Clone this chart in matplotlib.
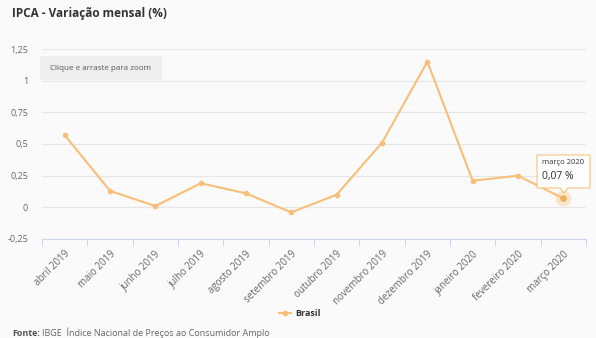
import matplotlib
matplotlib.use("Agg")
import matplotlib.pyplot as plt
from matplotlib.patches import Rectangle, Polygon
import numpy as np

plt.rcParams['font.family'] = ['Open Sans', 'DejaVu Sans']

months = ["abril 2019", "maio 2019", "junho 2019", "julho 2019", "agosto 2019",
          "setembro 2019", "outubro 2019", "novembro 2019", "dezembro 2019",
          "janeiro 2020", "fevereiro 2020", "março 2020"]
ipca = [0.57, 0.13, 0.01, 0.19, 0.11, -0.04, 0.10, 0.51, 1.15, 0.21, 0.25, 0.07]
y_ticks = [-0.25, 0, 0.25, 0.5, 0.75, 1, 1.25]
y_labels = ["-0,25", "0", "0,25", "0,5", "0,75", "1", "1,25"]

bg = "#fafafa"
line_c = "#f7bf78"
axis_c = "#ccd6eb"
grid_c = "#e6e6e6"
txt_c = "#666666"

W, H = 596, 338


def fx(px):
    return px / W


def fy(py):
    return 1 - py / H


fig = plt.figure(figsize=(W / 100, H / 100), dpi=100, facecolor=bg)
ax = fig.add_axes([fx(42), fy(239), 544 / W, (239 - 49) / H], facecolor=bg)

x = np.arange(len(months))
ax.plot(x, ipca, color=line_c, lw=1.5, marker="o", ms=3, zorder=3)
# highlighted last point
ax.scatter([x[-1]], [ipca[-1]], s=130, color=line_c, alpha=0.35, lw=0, zorder=2)
ax.scatter([x[-1]], [ipca[-1]], s=24, color="#f0b060", lw=0, zorder=4)

ax.set_xlim(-0.5, len(months) - 0.5)
ax.set_ylim(-0.25, 1.25)
ax.set_yticks(y_ticks)
ax.set_yticklabels(y_labels, fontsize=6.5, color=txt_c)
ax.yaxis.grid(True, color=grid_c, lw=0.8)
ax.set_axisbelow(True)
ax.tick_params(axis="y", length=0, pad=10)

ax.set_xticks(x)
ax.set_xticklabels(months, rotation=45, ha="right", rotation_mode="anchor",
                   fontsize=7, color=txt_c)
ax.tick_params(axis="x", length=0, pad=7)
ax.set_xticks(np.arange(-0.5, len(months)), minor=True)
ax.tick_params(axis="x", which="minor", length=5, color=axis_c, width=0.8)

for s in ["top", "right", "left"]:
    ax.spines[s].set_visible(False)
ax.spines["bottom"].set_color(axis_c)
ax.spines["bottom"].set_linewidth(0.8)

# tooltip for last point
tip = Polygon([(fx(537), fy(155)), (fx(590), fy(155)), (fx(590), fy(188)),
               (fx(568), fy(188)), (fx(564), fy(193)), (fx(560), fy(188)),
               (fx(537), fy(188))], closed=True, transform=fig.transFigure,
              facecolor="white", edgecolor=line_c, lw=0.8, alpha=0.95, zorder=10)
fig.patches.append(tip)
fig.text(fx(542), fy(163), months[-1], fontsize=5.5, color="#333333",
         va="center", zorder=11)
fig.text(fx(542), fy(177), "0,07 %", fontsize=7.5, color="#333333",
         va="center", zorder=11)

# zoom hint
hint = Rectangle((fx(40), fy(80)), 122 / W, 24 / H, transform=fig.transFigure,
                 facecolor="#eeeeee", edgecolor="none", zorder=10)
fig.patches.append(hint)
fig.text(fx(101), fy(69), "Clique e arraste para zoom", fontsize=5.8,
         color="#555555", ha="center", va="center", zorder=11)

# title
fig.text(fx(12), fy(14), "IPCA - Variação mensal (%)", fontsize=8.5,
         fontweight="bold", color="#333333", va="center")

# legend
fig.lines.append(plt.Line2D([fx(279), fx(291)], [fy(313)] * 2, color=line_c,
                            lw=1.5, transform=fig.transFigure))
fig.lines.append(plt.Line2D([fx(285)], [fy(313)], color=line_c, marker="o",
                            ms=3, transform=fig.transFigure))
fig.text(fx(295), fy(313), "Brasil", fontsize=6.5, fontweight="bold",
         color="#333333", va="center")

# source
fig.text(fx(12), fy(333), "Fonte:", fontsize=6.5, fontweight="bold",
         color="#555555", va="center")
fig.text(fx(42), fy(333), "IBGE  Índice Nacional de Preços ao Consumidor Amplo",
         fontsize=6.5, color="#666666", va="center")

fig.savefig("out.png", dpi=100, facecolor=bg)
